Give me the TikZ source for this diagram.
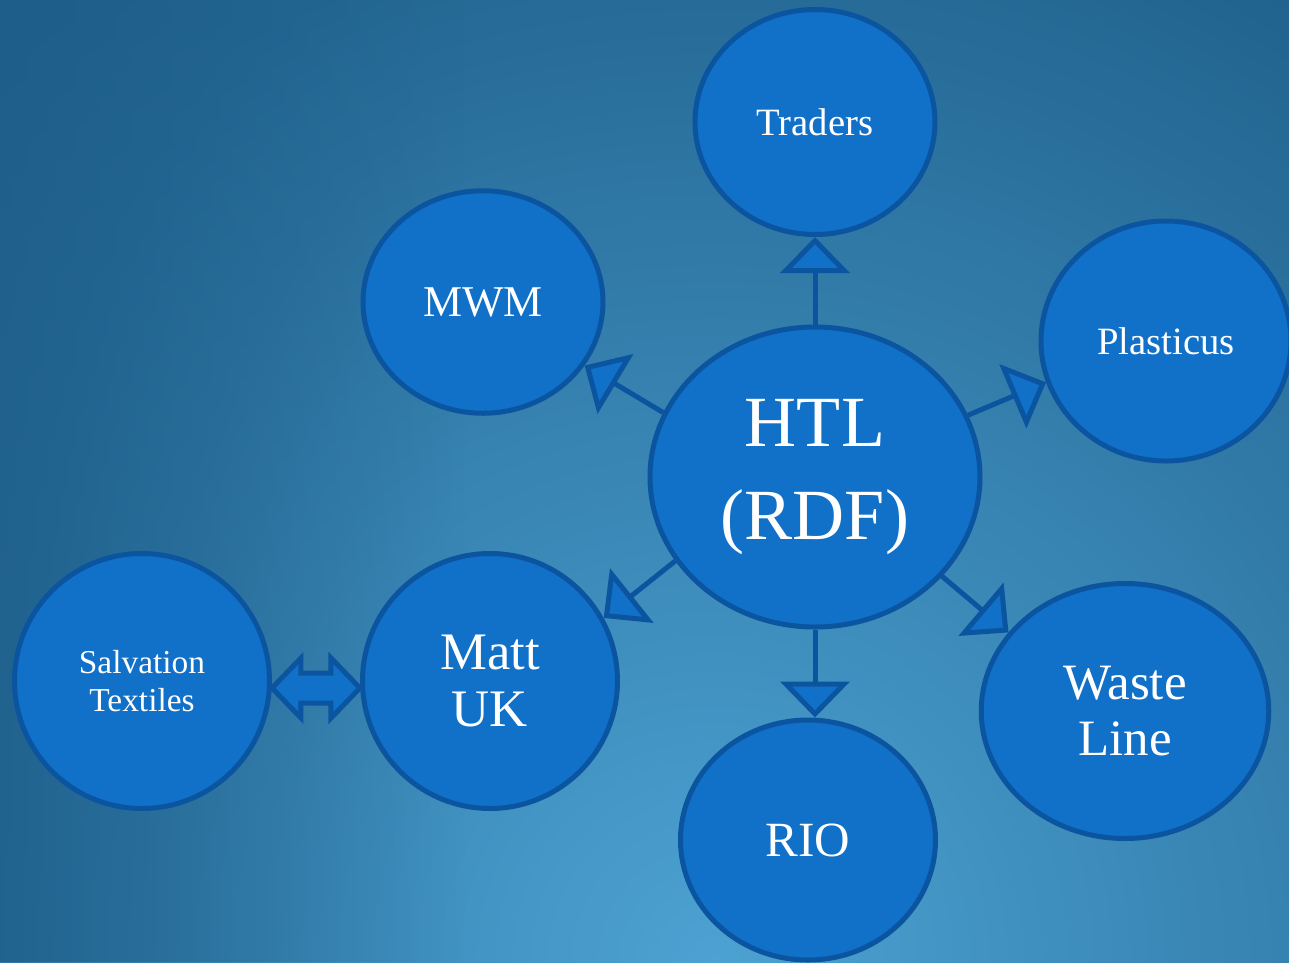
\documentclass[tikz,border=0pt]{standalone}
\usepackage{fontspec}
\setmainfont{Liberation Serif}
\usetikzlibrary{arrows.meta,calc,fadings,positioning,shapes.geometric}
\definecolor{bgdark}{RGB}{30,94,138}
\definecolor{bglight}{RGB}{76,162,210}
\definecolor{nodefill}{RGB}{17,112,200}
\definecolor{nodeline}{RGB}{11,85,160}
\tikzfading[name=leftshade, left color=transparent!0, right color=transparent!100]
\tikzset{%
	bubble/.style = {draw=nodeline, fill=nodefill, ellipse, line width=0.1cm, text=white, align=center, inner sep=0pt}, % Partner
	hub/.style    = {bubble, minimum width=6.6cm, minimum height=6.0cm, font=\fontsize{41}{57}\selectfont}, % Centre
	flow/.style   = {draw=nodeline, line width=0.1cm, -{Triangle[length=0.72cm,width=1.38cm,fill=nodefill]}}, % Arrow
	swap/.style   = {draw=nodeline, fill=nodefill, line width=0.1cm, line join=miter}, % Double arrow
}

\begin{document}
\begin{tikzpicture}
	\useasboundingbox (-16.30,-9.70) rectangle (9.48,9.54);
	\begin{scope}
		\clip (-16.30,-9.70) rectangle (9.48,9.54);
		\shade[inner color=bglight, outer color=bgdark] (-2.0,-9.7) circle (24cm);
		\fill[bgdark, path fading=leftshade, fill opacity=0.8] (-16.30,-9.70) rectangle (-7.0,9.54);
	\end{scope}
	\node[hub] (htl) at (0,0) {\raisebox{-0.15cm}{HTL}\\(RDF)};
	\node[bubble, above of=htl, node distance=7.1cm, minimum width=4.8cm, minimum height=4.5cm, font=\fontsize{22}{26}\selectfont] (traders) {Traders};
	\node[bubble, minimum width=4.8cm, minimum height=4.45cm, font=\fontsize{25}{30}\selectfont] (mwm) at (-6.64,3.50) {MWM};
	\node[bubble, minimum width=5.0cm, minimum height=4.8cm, font=\fontsize{22}{26}\selectfont] (plasticus) at (7.02,2.72) {Plasticus};
	\node[bubble, minimum width=5.1cm, minimum height=5.1cm, font=\fontsize{30}{32}\selectfont] (matt) at (-6.50,-4.08) {Matt\\UK};
	\node[bubble, left of=matt, node distance=6.96cm, minimum width=5.1cm, minimum height=5.1cm, font=\fontsize{19}{22}\selectfont] (salv) {Salvation\\Textiles};
	\node[bubble, minimum width=5.75cm, minimum height=5.1cm, font=\fontsize{29}{32}\selectfont] (waste) at (6.20,-4.68) {Waste\\Line};
	\node[bubble, minimum width=5.1cm, minimum height=4.8cm, font=\fontsize{28}{32}\selectfont] (rio) at (-0.14,-7.26) {RIO};
	\draw[flow] (htl.90) -- (traders.-90);
	\draw[flow] (htl.157) -- (mwm.-32);
	\draw[flow] (htl.22) -- (plasticus.-161);
	\draw[flow] (htl.-38) -- (waste.146);
	\draw[flow] (htl.-90) -- (htl.-90 |- rio.north);
	\draw[flow] (htl.-149) -- (matt.29);
	\coordinate (mid) at ($(salv.east)!0.5!(matt.west)+(0,-0.14)$);
	\draw[swap] ([yshift=-0.14cm]salv.east) -- ($(mid)+(-0.3,0.6)$) -- ($(mid)+(-0.3,0.3)$) -- ($(mid)+(0.3,0.3)$) -- ($(mid)+(0.3,0.6)$) -- ([yshift=-0.14cm]matt.west) -- ($(mid)+(0.3,-0.6)$) -- ($(mid)+(0.3,-0.3)$) -- ($(mid)+(-0.3,-0.3)$) -- ($(mid)+(-0.3,-0.6)$) -- cycle;
\end{tikzpicture}
\end{document}
